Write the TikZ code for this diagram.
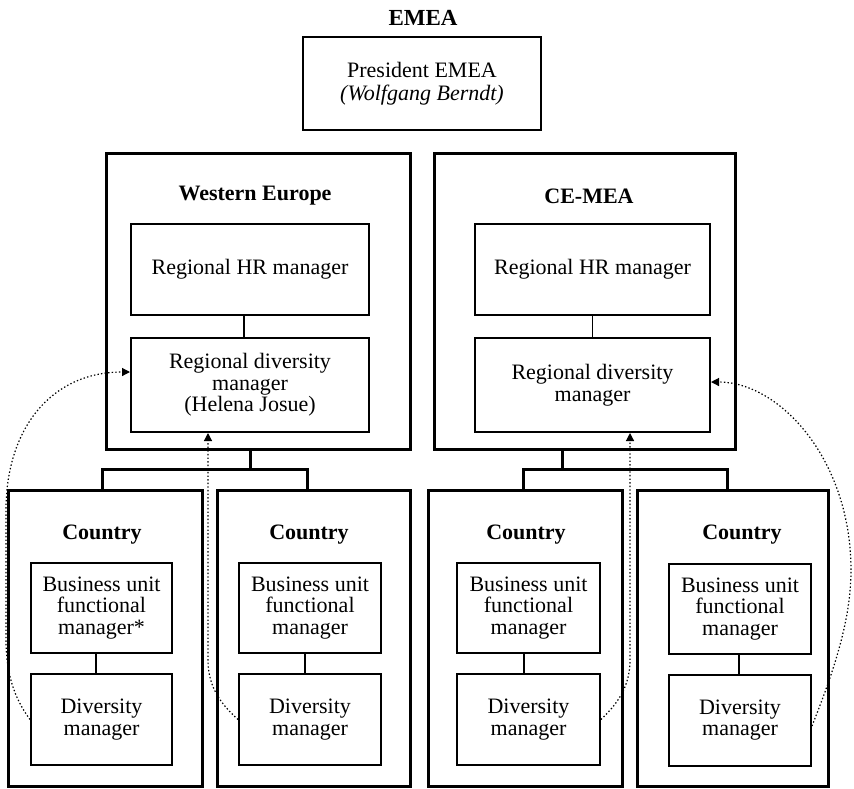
\documentclass[tikz,border=0pt]{standalone}
\usepackage{fontspec}
\setmainfont{Liberation Serif}
\usetikzlibrary{arrows.meta}
\tikzset{
  txt/.style={font=\fontsize{22}{21.5}\selectfont, align=center},
  region/.style={draw, rectangle, line width=3pt, inner sep=0pt},
  unit/.style={draw, rectangle, line width=2pt, inner sep=0pt, txt},
  head/.style={font=\fontsize{22}{22}\selectfont\bfseries, inner sep=0pt},
  link/.style={line width=1.7pt},
  bar/.style={line width=3pt},
  report/.style={line width=1.2pt, dash pattern=on 1.4pt off 2.2pt,
                 -{Triangle[length=8pt,width=8pt]}},
}
\begin{document}
\begin{tikzpicture}[x=1pt,y=-1pt]
\useasboundingbox (0,0) rectangle (854,788);

% top level
\node[font=\fontsize{23}{23}\selectfont\bfseries, inner sep=0pt] (emea) at (423,18) {EMEA};
\node[unit, minimum width=238pt, minimum height=93pt, font=\fontsize{22}{23}\selectfont] (pres) at (422,83.5)
  {President EMEA\\\textit{(Wolfgang Berndt)}};

% regions
\node[region, minimum width=304pt, minimum height=296pt] (we) at (258,301) {};
\node[head] (weT) at (255,196) {Western Europe};
\node[unit, minimum width=238pt, minimum height=91pt] (weHR) at (250,269.5) {Regional HR manager};
\node[unit, minimum width=238pt, minimum height=94pt] (weDiv) at (250,385)
  {Regional diversity\\manager\\(Helena Josue)};

\node[region, minimum width=301pt, minimum height=296pt] (ce) at (584.5,301) {};
\node[head] (ceT) at (589,196) {CE-MEA};
\node[unit, minimum width=235pt, minimum height=91pt] (ceHR) at (592.5,269.5) {Regional HR manager};
\node[unit, minimum width=235pt, minimum height=94pt] (ceDiv) at (592.5,385)
  {Regional diversity\\manager};

% countries
\node[region, minimum width=194pt, minimum height=296pt] (c1) at (105,638) {};
\node[head] (c1T) at (102,535) {Country};
\node[unit, minimum width=141pt, minimum height=90pt] (c1BU) at (101.5,608)
  {Business unit\\functional\\manager*};
\node[unit, minimum width=141pt, minimum height=91pt] (c1Div) at (101.5,719.5)
  {Diversity\\manager};

\node[region, minimum width=193pt, minimum height=296pt] (c2) at (313.5,638) {};
\node[head] (c2T) at (309,535) {Country};
\node[unit, minimum width=142pt, minimum height=90pt] (c2BU) at (310,608)
  {Business unit\\functional\\manager};
\node[unit, minimum width=142pt, minimum height=91pt] (c2Div) at (310,719.5)
  {Diversity\\manager};

\node[region, minimum width=194pt, minimum height=296pt] (c3) at (525,638) {};
\node[head] (c3T) at (526,535) {Country};
\node[unit, minimum width=143pt, minimum height=90pt] (c3BU) at (528.5,608)
  {Business unit\\functional\\manager};
\node[unit, minimum width=143pt, minimum height=91pt] (c3Div) at (528.5,719.5)
  {Diversity\\manager};

\node[region, minimum width=191pt, minimum height=296pt] (c4) at (733,638) {};
\node[head] (c4T) at (742,535) {Country};
\node[unit, minimum width=142pt, minimum height=90pt] (c4BU) at (740,609)
  {Business unit\\functional\\manager};
\node[unit, minimum width=142pt, minimum height=91pt] (c4Div) at (740,720)
  {Diversity\\manager};

% solid reporting lines
\draw[link] ([xshift=-6pt]weHR.south) -- ([xshift=-6pt]weDiv.north);
\draw[link] (ceHR.south) -- (ceDiv.north);
\draw[link] ([xshift=-5.5pt]c1BU.south) -- ([xshift=-5.5pt]c1Div.north);
\draw[link] ([xshift=-5pt]c2BU.south) -- ([xshift=-5pt]c2Div.north);
\draw[link] ([xshift=-4.5pt]c3BU.south) -- ([xshift=-4.5pt]c3Div.north);
\draw[link] ([xshift=-1pt]c4BU.south) -- ([xshift=-1pt]c4Div.north);

% region to country brackets
\draw[bar] ([xshift=-8pt]we.south) -- ++(0,19) coordinate (weJ);
\draw[bar] ([xshift=-3pt]c1.north) |- (weJ) -| ([xshift=-6pt]c2.north);
\draw[bar] ([xshift=-22.5pt]ce.south) -- ++(0,19) coordinate (ceJ);
\draw[bar] ([xshift=-2pt]c3.north) |- (ceJ) -| ([xshift=-6pt]c4.north);

% dotted functional reporting lines
\draw[report] (c1Div.west) .. controls (17,702) and (6,678) .. (6,640)
  -- (6,510) .. controls (6,430) and (50,372) .. ([yshift=13pt]weDiv.west);
\draw[report] (c2Div.west) .. controls (222,705) and (208,688) .. (208,660)
  -- ([xshift=-42pt]weDiv.south);
\draw[report] (c3Div.east) .. controls (616,705) and (630,688) .. (630,660)
  -- ([xshift=37.5pt]ceDiv.south);
\draw[report] ([yshift=-6pt]c4Div.east) .. controls (830,680) and (851,625) .. (851,570)
  .. controls (851,460) and (780,382) .. ([yshift=3pt]ceDiv.east);
\end{tikzpicture}
\end{document}
